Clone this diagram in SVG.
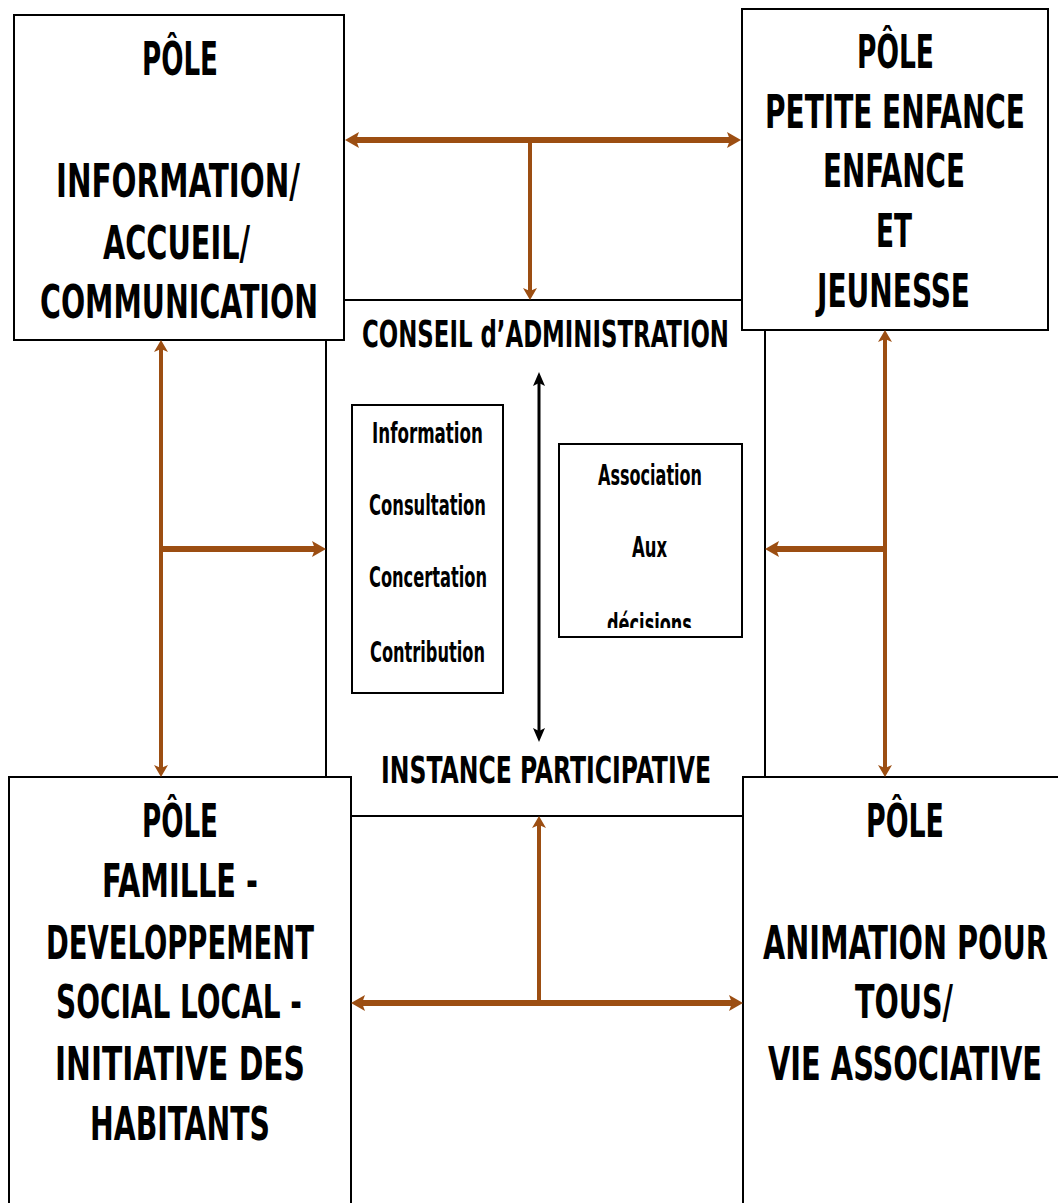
<svg xmlns="http://www.w3.org/2000/svg" width="1058" height="1203" viewBox="0 0 1058 1203">
<style>
.box{fill:#fff;stroke:#000;stroke-width:2}
.t{font-family:"DejaVu Sans Condensed","DejaVu Sans",sans-serif;font-weight:bold;fill:#000}
.p{font-size:46px}
.c{font-size:38px}
.s{font-size:28px}
.br{stroke:#9c4e12;fill:none}
.thick{stroke-width:6}
.thin{stroke-width:4}
.blk{stroke:#000;stroke-width:3;fill:none}
</style>
<defs>
<marker id="ahB" markerUnits="userSpaceOnUse" viewBox="0 0 14 16" markerWidth="14" markerHeight="16" refX="6" refY="8" orient="auto-start-reverse"><path d="M0,0 L14,8 L0,16 L3,8 z" fill="#9c4e12"/></marker>
<marker id="ahS" markerUnits="userSpaceOnUse" viewBox="0 0 12 14" markerWidth="12" markerHeight="14" refX="5" refY="7" orient="auto-start-reverse"><path d="M0,0 L12,7 L0,14 L3,7 z" fill="#9c4e12"/></marker>
<marker id="ahK" markerUnits="userSpaceOnUse" viewBox="0 0 14 12" markerWidth="14" markerHeight="12" refX="6" refY="6" orient="auto-start-reverse"><path d="M0,0 L14,6 L0,12 L3,6 z" fill="#000"/></marker>
<clipPath id="clipDec"><rect x="560" y="445" width="181" height="183"/></clipPath>
</defs>
<rect width="1058" height="1203" fill="#fff"/>

<g id="instance">
<rect class="box" x="326" y="300" width="439" height="516"/>
<g transform="scale(0.62,1)">
<text class="t c" x="583.87" y="347" textLength="591.94" lengthAdjust="spacingAndGlyphs">CONSEIL d’ADMINISTRATION</text>
<text class="t c" x="614.52" y="783" textLength="532.26" lengthAdjust="spacingAndGlyphs">INSTANCE PARTICIPATIVE</text>
</g>
</g>

<g id="pole-info">
<rect class="box" x="14" y="15" width="330" height="325"/>
<g transform="scale(0.62,1)">
<text class="t p" x="229.03" y="75" textLength="122.58" lengthAdjust="spacingAndGlyphs">PÔLE</text>
<text class="t p" x="90.32" y="197" textLength="393.55" lengthAdjust="spacingAndGlyphs">INFORMATION/</text>
<text class="t p" x="166.13" y="259" textLength="237.10" lengthAdjust="spacingAndGlyphs">ACCUEIL/</text>
<text class="t p" x="64.52" y="318" textLength="448.39" lengthAdjust="spacingAndGlyphs">COMMUNICATION</text>
</g>
</g>

<g id="pole-enfance">
<rect class="box" x="742" y="9" width="306" height="321"/>
<g transform="scale(0.62,1)">
<text class="t p" x="1382.26" y="68" textLength="124.19" lengthAdjust="spacingAndGlyphs">PÔLE</text>
<text class="t p" x="1233.87" y="128" textLength="419.35" lengthAdjust="spacingAndGlyphs">PETITE ENFANCE</text>
<text class="t p" x="1327.42" y="187" textLength="229.03" lengthAdjust="spacingAndGlyphs">ENFANCE</text>
<text class="t p" x="1412.90" y="247" textLength="58.06" lengthAdjust="spacingAndGlyphs">ET</text>
<text class="t p" x="1317.74" y="307" textLength="246.77" lengthAdjust="spacingAndGlyphs">JEUNESSE</text>
</g>
</g>

<g id="pole-famille">
<rect class="box" x="9" y="777" width="342" height="450"/>
<g transform="scale(0.62,1)">
<text class="t p" x="229.03" y="837" textLength="122.58" lengthAdjust="spacingAndGlyphs">PÔLE</text>
<text class="t p" x="164.52" y="897" textLength="251.61" lengthAdjust="spacingAndGlyphs">FAMILLE -</text>
<text class="t p" x="74.19" y="959" textLength="432.26" lengthAdjust="spacingAndGlyphs">DEVELOPPEMENT</text>
<text class="t p" x="90.32" y="1018" textLength="396.77" lengthAdjust="spacingAndGlyphs">SOCIAL LOCAL -</text>
<text class="t p" x="88.71" y="1080" textLength="403.23" lengthAdjust="spacingAndGlyphs">INITIATIVE DES</text>
<text class="t p" x="145.16" y="1140" textLength="290.32" lengthAdjust="spacingAndGlyphs">HABITANTS</text>
</g>
</g>

<g id="pole-animation">
<rect class="box" x="743" y="777" width="340" height="450"/>
<g transform="scale(0.62,1)">
<text class="t p" x="1396.77" y="837" textLength="125.81" lengthAdjust="spacingAndGlyphs">PÔLE</text>
<text class="t p" x="1230.65" y="959" textLength="459.68" lengthAdjust="spacingAndGlyphs">ANIMATION POUR</text>
<text class="t p" x="1379.03" y="1018" textLength="158.06" lengthAdjust="spacingAndGlyphs">TOUS/</text>
<text class="t p" x="1238.71" y="1080" textLength="441.94" lengthAdjust="spacingAndGlyphs">VIE ASSOCIATIVE</text>
</g>
</g>

<g id="niveaux">
<rect class="box" x="352" y="405" width="151" height="288"/>
<text class="t s" x="372" y="443" textLength="111" lengthAdjust="spacingAndGlyphs">Information</text>
<text class="t s" x="369" y="515" textLength="117" lengthAdjust="spacingAndGlyphs">Consultation</text>
<text class="t s" x="369" y="587" textLength="118" lengthAdjust="spacingAndGlyphs">Concertation</text>
<text class="t s" x="370" y="662" textLength="115" lengthAdjust="spacingAndGlyphs">Contribution</text>
</g>

<g id="association">
<rect class="box" x="559" y="444" width="183" height="193"/>
<text class="t s" x="598" y="485" textLength="104" lengthAdjust="spacingAndGlyphs">Association</text>
<text class="t s" x="632" y="557" textLength="35" lengthAdjust="spacingAndGlyphs">Aux</text>
<text class="t s" x="607" y="634" textLength="85" lengthAdjust="spacingAndGlyphs" clip-path="url(#clipDec)">décisions</text>
</g>

<g id="connectors">
<line class="br thick" x1="353" y1="140" x2="733" y2="140" marker-start="url(#ahB)" marker-end="url(#ahB)"/>
<line class="br thin" x1="530" y1="140" x2="530" y2="293" marker-end="url(#ahS)"/>
<line class="br thin" x1="161" y1="347" x2="161" y2="770" marker-start="url(#ahS)" marker-end="url(#ahS)"/>
<line class="br thick" x1="161" y1="549" x2="318" y2="549" marker-end="url(#ahB)"/>
<line class="br thin" x1="885" y1="337" x2="885" y2="770" marker-start="url(#ahS)" marker-end="url(#ahS)"/>
<line class="br thick" x1="885" y1="549" x2="773" y2="549" marker-end="url(#ahB)"/>
<line class="br thick" x1="359" y1="1003" x2="735" y2="1003" marker-start="url(#ahB)" marker-end="url(#ahB)"/>
<line class="br thin" x1="539" y1="1003" x2="539" y2="823" marker-end="url(#ahS)"/>
<line class="blk" x1="539" y1="380" x2="539" y2="734" marker-start="url(#ahK)" marker-end="url(#ahK)"/>
</g>
</svg>
